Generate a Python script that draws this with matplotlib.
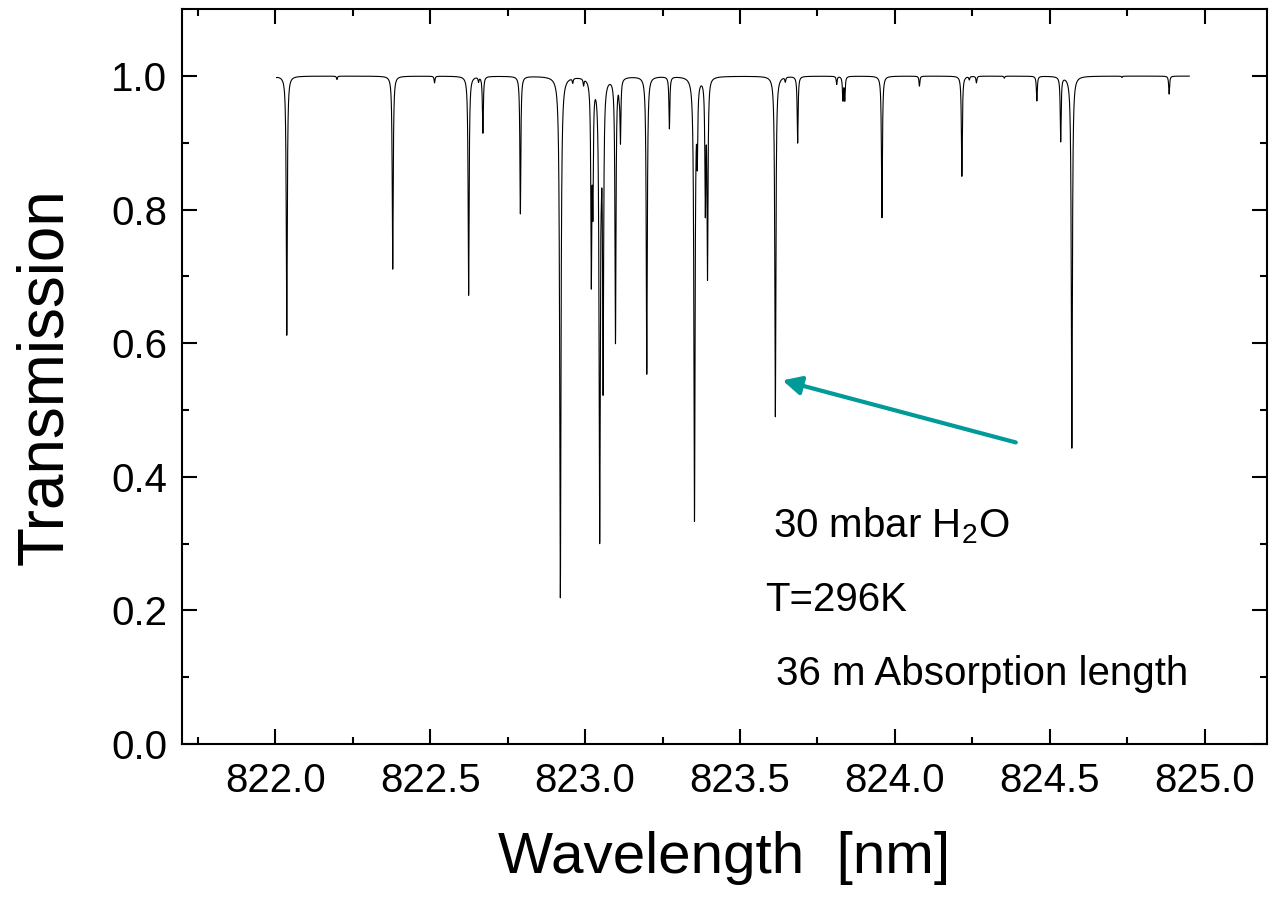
import numpy as np
import matplotlib.pyplot as plt

plt.rcParams['font.family'] = ['Liberation Sans', 'DejaVu Sans']
plt.rcParams['mathtext.fontset'] = 'custom'
plt.rcParams['mathtext.rm'] = 'Liberation Sans'

# H2O line positions [nm] and the transmission at the bottom of each line,
# read off the reference plot
line_center = [821.995, 822.037, 822.199, 822.379, 822.514, 822.624, 822.656,
               822.670, 822.791, 822.920, 822.960, 822.995, 823.020, 823.025,
               823.047, 823.052, 823.058, 823.098, 823.110, 823.114, 823.199,
               823.272, 823.353, 823.362, 823.388, 823.395, 823.614, 823.646,
               823.686, 823.812, 823.832, 823.838, 823.958, 824.079, 824.216,
               824.240, 824.263, 824.353, 824.458, 824.535, 824.571, 824.733,
               824.885]
line_min_T = [0.975, 0.612, 0.995, 0.711, 0.990, 0.672, 0.993,
              0.915, 0.794, 0.219, 0.993, 0.990, 0.700, 0.820,
              0.307, 0.950, 0.540, 0.602, 0.985, 0.907, 0.554,
              0.922, 0.335, 0.893, 0.806, 0.704, 0.490, 0.993,
              0.900, 0.988, 0.965, 0.965, 0.788, 0.985, 0.850,
              0.995, 0.990, 0.997, 0.963, 0.903, 0.443, 0.998,
              0.973]
line_gamma = 0.0017   # lorentz half width [nm]
wl_start, wl_stop = 822.004, 824.950

xticks = [822.0, 822.5, 823.0, 823.5, 824.0, 824.5, 825.0]
yticks = [0.0, 0.2, 0.4, 0.6, 0.8, 1.0]


def transmission(wl):
    # sum lorentzian absorbance of all lines, Beer-Lambert
    absorb = np.zeros_like(wl)
    for x0, tmin in zip(line_center, line_min_T):
        a0 = -np.log(tmin)
        absorb += a0 * line_gamma**2 / ((wl - x0)**2 + line_gamma**2)
    return np.exp(-absorb)


wl = np.arange(wl_start, wl_stop, 0.0001)
centers = np.array(line_center)
centers = centers[(centers > wl_start) & (centers < wl_stop)]
wl = np.sort(np.concatenate([wl, centers]))
trans = transmission(wl)

fig = plt.figure(figsize=(12.69, 9.02), dpi=100)
ax = fig.add_axes([0.1437, 0.1752, 0.8545, 0.8145])

ax.plot(wl, trans, color='black', lw=0.8)

# arrow pointing at the 823.6 nm line
ax.annotate('', xy=(823.637, 0.5444), xytext=(824.390, 0.4515),
            arrowprops=dict(arrowstyle='-|>', color='#009b98', lw=3,
                            mutation_scale=28, shrinkA=0, shrinkB=0))

ax.text(823.605, 0.310, '30 mbar H$_\\mathrm{2}$O', fontsize=29, va='baseline')
ax.text(823.582, 0.199, 'T=296K', fontsize=29, va='baseline')
ax.text(823.616, 0.088, '36 m Absorption length', fontsize=29, va='baseline')

ax.set_xlim(821.7, 825.2)
ax.set_ylim(0, 1.1)
ax.set_xticks(xticks)
ax.set_xticks(np.arange(821.75, 825.2, 0.5), minor=True)
ax.set_yticks(yticks)
ax.set_yticks(np.arange(0.1, 1.1, 0.2), minor=True)
ax.set_xticklabels([f'{t:.1f}' for t in xticks])
ax.set_yticklabels([f'{t:.1f}' for t in yticks])

ax.tick_params(which='both', direction='in', top=True, right=True,
               width=1.5, labelsize=29)
ax.tick_params(which='major', length=11)
ax.tick_params(which='minor', length=5)
ax.tick_params(axis='x', pad=13)
ax.tick_params(axis='y', pad=11)
for s in ax.spines.values():
    s.set_linewidth(1.5)

ax.set_xlabel('Wavelength  [nm]', fontsize=42, labelpad=22)
ax.set_ylabel('Transmission', fontsize=46, labelpad=26)

fig.savefig('out.png', dpi=100)
